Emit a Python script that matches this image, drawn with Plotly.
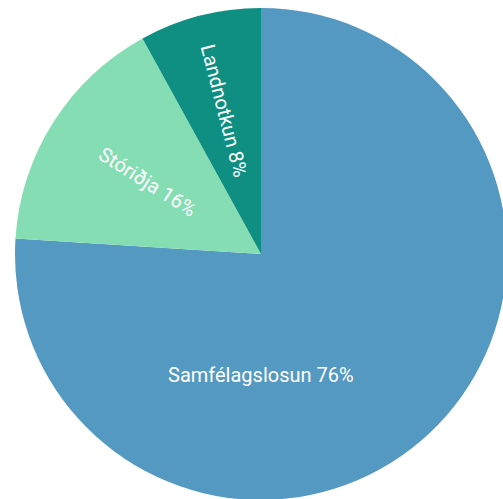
import math
import plotly.graph_objects as go

labels = ["Samfélagslosun", "Stóriðja", "Landnotkun"]
values = [76, 16, 8]
colors = ["#5499C2", "#84DDB3", "#0E8F81"]

fig = go.Figure(go.Pie(
    labels=labels,
    values=values,
    sort=False,
    direction="clockwise",
    rotation=0,
    marker=dict(colors=colors, line=dict(width=0)),
    textinfo="none",
    hoverinfo="label+percent",
    showlegend=False,
    domain=dict(x=[0, 1], y=[0, 1]),
))

# label placement: radial text for the small slices, horizontal for the big one
total = sum(values)
cum = 0
label_r = [0.49, 0.545, 0.60]
annotations = []
for i, (lab, v) in enumerate(zip(labels, values)):
    mid = (cum + v / 2) / total * 360.0
    cum += v
    txt = f"{lab} {v}%"
    if i == 0:
        x, y, ang = 0.5, 0.5 - label_r[i] * 0.5, 0
    else:
        rad = math.radians(mid)
        x = 0.5 + label_r[i] * 0.5 * math.sin(rad)
        y = 0.5 + label_r[i] * 0.5 * math.cos(rad)
        ang = mid - 270
    annotations.append(dict(
        x=x, y=y, xref="paper", yref="paper", text=txt, showarrow=False,
        textangle=ang, xanchor="center", yanchor="middle",
        font=dict(family="Roboto", size=20, color="white"),
    ))

fig.update_layout(
    width=522, height=508,
    margin=dict(l=15, r=15, t=8, b=8),
    paper_bgcolor="white",
    showlegend=False,
    annotations=annotations,
)

fig.write_html("out.html", config={"displayModeBar": False},
               post_script="document.body.style.overflow='hidden';document.body.style.margin='0';")
